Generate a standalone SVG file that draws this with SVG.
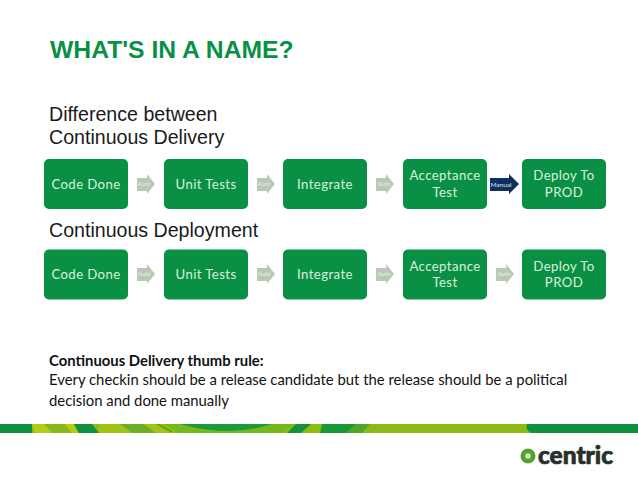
<svg xmlns="http://www.w3.org/2000/svg" width="638" height="479" viewBox="0 0 638 479">
<style>
text{font-family:Lato,"Open Sans",sans-serif}
.box{fill:#0a9044}
.t{fill:#d8f2dc;font-size:13.2px;letter-spacing:.4px;text-anchor:middle}
.a{fill:#b9c9b5}
.al{fill:#e8efe6;font-size:6px;text-anchor:middle}
.h{font-size:19.6px;fill:#1a1a1a}
.b{font-size:14.85px;fill:#111}
.lh{font-family:"Liberation Sans",Arial,sans-serif}
</style>
<defs>
<rect id="n" width="84" height="50" rx="5" class="box"/>
<path id="ar" class="a" d="M0 4H10V0L18 10L10 20V17H0Z"/>
</defs>
<rect width="638" height="479" fill="#fff"/>
<text class="lh" x="50" y="58" font-weight="700" font-size="24.7" fill="#0a9044">WHAT'S IN A NAME?</text>
<text class="h lh" x="49" y="120.500">Difference between</text>
<text class="h lh" x="49" y="144">Continuous Delivery</text>
<text class="h lh" x="49" y="237">Continuous Deployment</text>
<g id="connectors">
<use href="#ar" x="137" y="174"/><text class="al" x="144" y="186">Auto</text>
<use href="#ar" x="257" y="174"/><text class="al" x="264" y="186">Auto</text>
<use href="#ar" x="376" y="174"/><text class="al" x="384" y="186">Auto</text>
<path fill="#0f2f5c" d="M490 178H509V174L519 184L509 194V191H490Z"/>
<text x="501" y="186.500" font-size="6.500" fill="#dfe6ee" text-anchor="middle">Manual</text>
<use href="#ar" x="137" y="264"/><text class="al" x="144" y="276">Auto</text>
<use href="#ar" x="257" y="264"/><text class="al" x="264" y="276">Auto</text>
<use href="#ar" x="376" y="264"/><text class="al" x="384" y="276">Auto</text>
<use href="#ar" x="496" y="264"/><text class="al" x="504" y="276">Auto</text>
</g>
<g id="n1"><use href="#n" x="44" y="159"/><text class="t" x="86" y="188.500">Code Done</text></g>
<g id="n2"><use href="#n" x="164" y="159"/><text class="t" x="206" y="188.500">Unit Tests</text></g>
<g id="n3"><use href="#n" x="283" y="159"/><text class="t" x="325" y="188.500">Integrate</text></g>
<g id="n4"><use href="#n" x="403" y="159"/><text class="t" x="445" y="180">Acceptance</text><text class="t" x="445" y="197">Test</text></g>
<g id="n5"><use href="#n" x="522" y="159"/><text class="t" x="564" y="180">Deploy To</text><text class="t" x="564" y="197">PROD</text></g>
<g id="n6"><use href="#n" x="44" y="249.500"/><text class="t" x="86" y="279">Code Done</text></g>
<g id="n7"><use href="#n" x="164" y="249.500"/><text class="t" x="206" y="279">Unit Tests</text></g>
<g id="n8"><use href="#n" x="283" y="249.500"/><text class="t" x="325" y="279">Integrate</text></g>
<g id="n9"><use href="#n" x="403" y="249.500"/><text class="t" x="445" y="271">Acceptance</text><text class="t" x="445" y="287">Test</text></g>
<g id="n10"><use href="#n" x="522" y="249.500"/><text class="t" x="564" y="271">Deploy To</text><text class="t" x="564" y="287">PROD</text></g>
<text class="b" x="49" y="366" font-weight="700">Continuous Delivery thumb rule:</text>
<text class="b" x="49" y="385">Every checkin should be a release candidate but the release should be a political</text>
<text class="b" x="49" y="406">decision and done manually</text>
<g id="band">
<rect x="0" y="424" width="638" height="9" fill="#8fbc12"/>
<rect x="0" y="424" width="32" height="9" fill="#0f9240"/>
<path d="M32 424H74L78 433H35Z" fill="#b6cc12"/>
<path d="M44 424H65L72 433H52Z" fill="#86b81e"/>
<path d="M74 424H92L99 433H79Z" fill="#0f9240"/>
<path d="M99 424H157L172 433H99Z" fill="#a0c414"/>
<path d="M120 424H143L156 433H132Z" fill="#6cae24"/>
<path d="M157 424L172 432" stroke="#2c8f2c" stroke-width="1"/>
<path d="M165 424H296L282 433H178Z" fill="#76b81c"/>
<path d="M180 424H272Q228 438 180 424Z" fill="#1a9a3a"/>
<path d="M296 424H311L301 433H287Z" fill="#16903c"/>
<path d="M322 424H356L346 433H320Z" fill="#189838"/>
<path d="M356 424H370L362 433H346Z" fill="#4ea52c"/>
<path d="M370 424H525Q526 431 520 433H362Z" fill="#8cb916"/>
<path d="M527 424H638V433H531Q525 430 527 424Z" fill="#0f9240"/>
</g>
<g id="logo">
<circle cx="528" cy="456" r="7.500" fill="#4fa52a"/>
<circle cx="528" cy="456" r="2.800" fill="#d9ecc0"/>
<text x="538" y="464" font-size="25" font-weight="900" fill="#26302b" stroke="#26302b" stroke-width=".7" textLength="75" lengthAdjust="spacingAndGlyphs">centric</text>
</g>
</svg>
